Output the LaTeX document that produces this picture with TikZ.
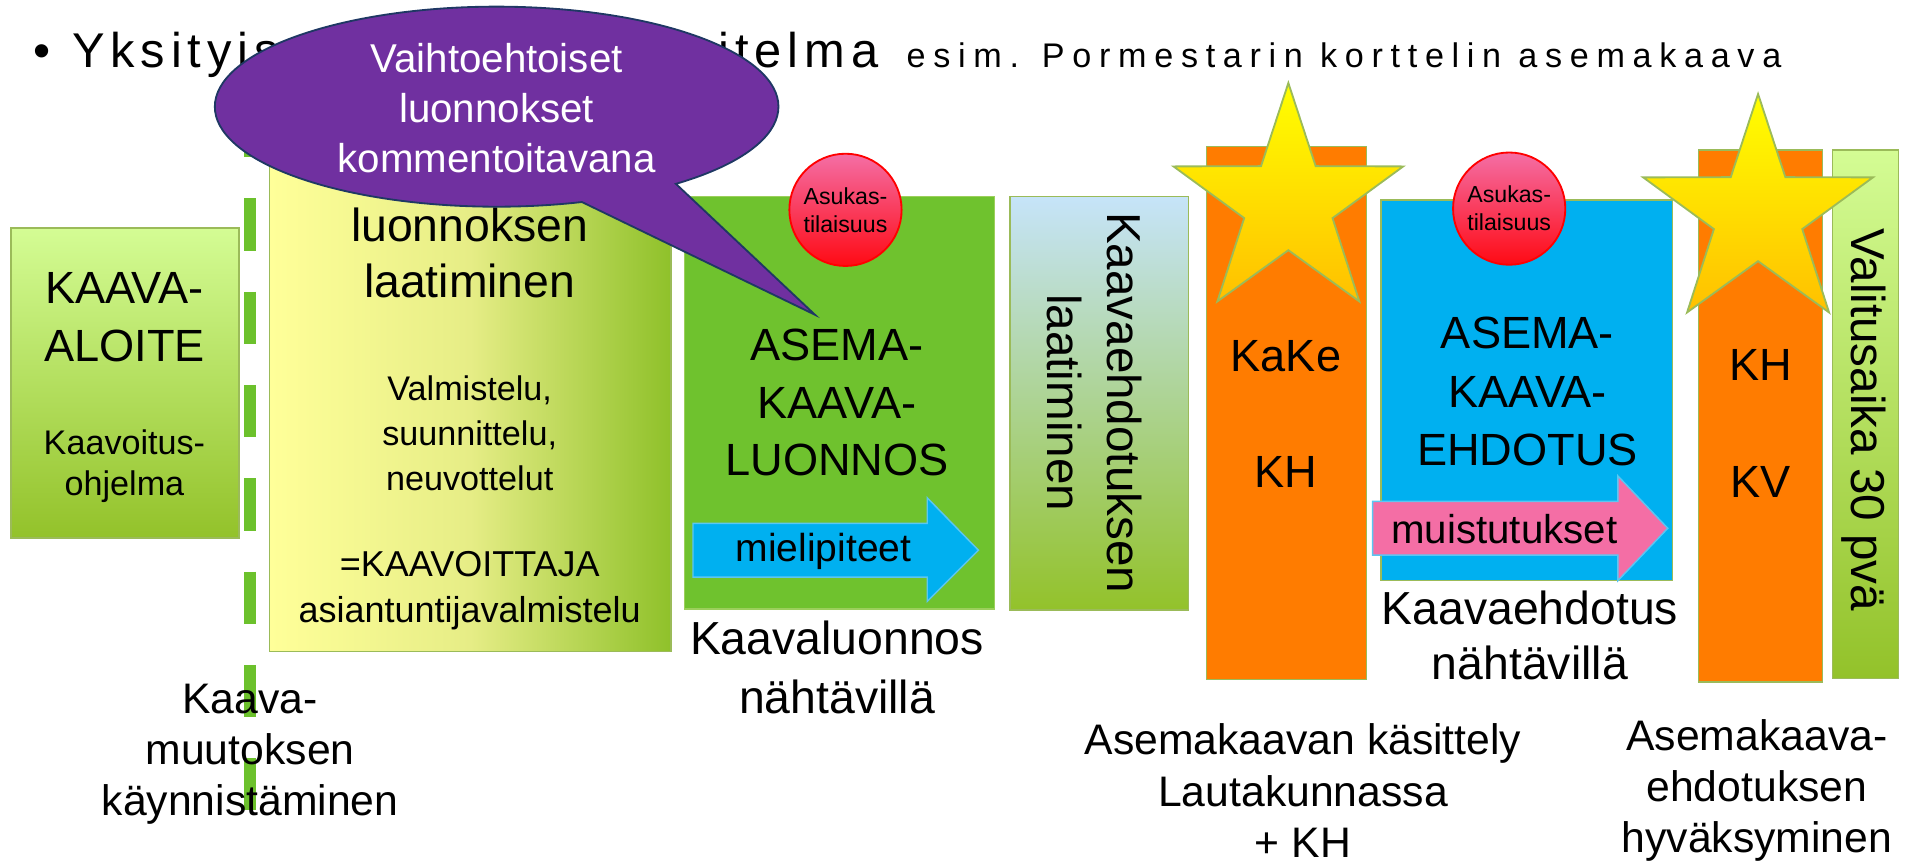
\documentclass[tikz,border=0pt]{standalone}
\usepackage{fontspec}
\setmainfont{Liberation Sans}
\newfontfamily\titbig[LetterSpace=12]{Liberation Sans}
\newfontfamily\titsmall[LetterSpace=22.5]{Liberation Sans}
\usetikzlibrary{shapes.geometric}
\definecolor{lgtop}{HTML}{D4FC94}
\definecolor{lgbot}{HTML}{93C22A}
\definecolor{boxline}{HTML}{9BBB59}
\definecolor{yelL}{HTML}{FFFF99}
\definecolor{yelM}{HTML}{E6ED86}
\definecolor{yelR}{HTML}{8FC12A}
\definecolor{grn}{HTML}{6FC22E}
\definecolor{grnline}{HTML}{9CCF5C}
\definecolor{cyanb}{HTML}{00B0F0}
\definecolor{cyanline}{HTML}{5BC6F2}
\definecolor{orng}{HTML}{FF7C00}
\definecolor{purp}{HTML}{7030A0}
\definecolor{navy}{HTML}{1F3864}
\definecolor{pnk}{HTML}{F46EA5}
\definecolor{redc}{HTML}{FF0A14}
\definecolor{ltblue}{HTML}{C6E4F9}
\definecolor{dashgrn}{HTML}{6CC12C}
\definecolor{staryel}{HTML}{FFFF00}
\definecolor{starorg}{HTML}{FFC000}
\newcommand\myfs[2]{\fontsize{#1}{#2}\selectfont}
\begin{document}
\begin{tikzpicture}[x=1pt,y=-1pt,
  txt/.style={align=center, inner sep=0pt},
  bigtxt/.style={txt, font=\myfs{37}{47}},
  midtxt/.style={txt, font=\myfs{35}{42}},
  smalltxt/.style={txt, font=\myfs{28}{37}},
  panel/.style={draw=boxline, line width=1.2pt},
  asukas/.style={circle, minimum size=92pt, inner sep=0pt, draw=red, line width=1.5pt,
     top color=pnk, bottom color=redc, align=center, font=\myfs{19}{23}},
  starshape/.style={star, star points=5, star point ratio=2.6, minimum size=198pt,
     inner sep=0pt, draw=boxline, line width=1.5pt, top color=staryel, bottom color=starorg},
  arrowbody/.style={line width=1.2pt, line join=miter}
]
\useasboundingbox (0,0) rectangle (1568,709);

% title
\node[anchor=base west, inner sep=0pt, font=\titbig\myfs{40}{48}] (bullet) at (27,55) {•};
\node[anchor=base west, inner sep=0pt, font=\titbig\myfs{40}{48}] (tit1) at (59,55) {Yksityis};
\node[anchor=base west, inner sep=0pt, font=\titbig\myfs{40}{48}] (tit2) at (589,55) {itelma};
\node[anchor=base west, inner sep=0pt, font=\titsmall\myfs{28}{34}] (tit3) at (743,55)
  {esim. Pormestarin korttelin asemakaava};

% dashed divider
\coordinate (dtop) at (205,86);
\coordinate (dbot) at (205,664);
\draw[dashgrn, line width=10pt, dash pattern=on 43pt off 33.5pt] (dtop) -- (dbot);

% KAAVA-ALOITE
\draw[panel, top color=lgtop, bottom color=lgbot] (9,187) rectangle (196,441);
\node[bigtxt] (aloite) at (102,260) {KAAVA-\\ALOITE};
\node[txt, font=\myfs{28}{34}] (ohj) at (102,382) {Kaavoitus-\\ohjelma};

% luonnoksen laatiminen
\draw[panel, left color=yelL, right color=yelR, middle color=yelM] (221,132) rectangle (550,534);
\node[txt, font=\myfs{38}{46}] (laat) at (385,207) {luonnoksen\\laatiminen};
\node[smalltxt] (valm) at (385,355) {Valmistelu,\\suunnittelu,\\neuvottelut};
\node[txt, font=\myfs{29.5}{38}] (kaavoittaja) at (385,484) {=KAAVOITTAJA\\asiantuntijavalmistelu};

% ASEMAKAAVALUONNOS
\draw[draw=grnline, line width=1.2pt, fill=grn] (561,161) rectangle (815,499);
\draw[arrowbody, draw=cyanline, fill=cyanb] (568,429) -- (760,429) -- (760,408) -- (802,451)
   -- (760,493) -- (760,473) -- (568,473) -- cycle;
\node[txt, font=\myfs{32}{36}] (miel) at (675,452) {mielipiteet};
\node[bigtxt] (luonnos) at (686,330) {ASEMA-\\KAAVA-\\LUONNOS};
\node[asukas] (as1) at (693,172) {Asukas-\\tilaisuus};

% Kaavaehdotuksen laatiminen
\draw[panel, top color=ltblue, bottom color=lgbot] (828,161) rectangle (974,500);
\node[txt, font=\myfs{39}{49}, rotate=-90] (kel) at (897,330) {Kaavaehdotuksen\\laatiminen};

% KaKe / KH
\draw[panel, fill=orng] (989,120) rectangle (1120,557);
\node[starshape] (star1) at (1056,167) {};
\node[bigtxt] (kake) at (1054,292) {KaKe};
\node[bigtxt] (kh1) at (1054,387) {KH};

% ASEMAKAAVAEHDOTUS
\draw[panel, fill=cyanb] (1132,164) rectangle (1371,476);
\node[bigtxt, font=\myfs{37}{48}] (ehd) at (1252,321) {ASEMA-\\KAAVA-\\EHDOTUS};
\draw[arrowbody, draw=cyanline, fill=pnk] (1125,411) -- (1326,411) -- (1326,390) -- (1367,433)
   -- (1326,476) -- (1326,455) -- (1125,455) -- cycle;
\node[txt, font=\myfs{33}{36}] (muist) at (1233,434) {muistutukset};
\node[asukas] (as2) at (1237,171) {Asukas-\\tilaisuus};

% KH / KV and Valitusaika
\draw[panel, fill=orng] (1392,123) rectangle (1494,559);
\draw[panel, top color=lgtop, bottom color=lgbot] (1502,123) rectangle (1556,556);
\node[txt, font=\myfs{39}{45}, rotate=-90] (valit) at (1528,344) {Valitusaika 30 pvä};
\node[starshape] (star2) at (1441,176) {};
\node[bigtxt] (kh2) at (1443,299) {KH};
\node[bigtxt] (kv) at (1443,395) {KV};

% callout
\draw[draw=navy, line width=1.5pt, fill=purp, line join=miter]
  (477,165.6) -- (668,258) -- (554,150.7)
  arc[start angle=50.5, end angle=-287.6, x radius=231, y radius=82] -- cycle;
\node[txt, font=\myfs{33}{41}, text=white] (callout) at (407,89)
  {Vaihtoehtoiset\\luonnokset\\kommentoitavana};

% bottom labels
\node[midtxt] (kmk) at (205,618) {Kaava-\\muutoksen\\käynnistäminen};
\node[txt, font=\myfs{38}{49}] (klnah) at (686,547) {Kaavaluonnos\\nähtävillä};
\node[txt, font=\myfs{38}{45}] (kenah) at (1254,521) {Kaavaehdotus\\nähtävillä};
\node[midtxt] (akk) at (1068,648) {Asemakaavan käsittely\\Lautakunnassa\\+ KH};
\node[midtxt] (aeh) at (1440,648) {Asemakaava-\\ehdotuksen\\hyväksyminen};
\end{tikzpicture}
\end{document}
